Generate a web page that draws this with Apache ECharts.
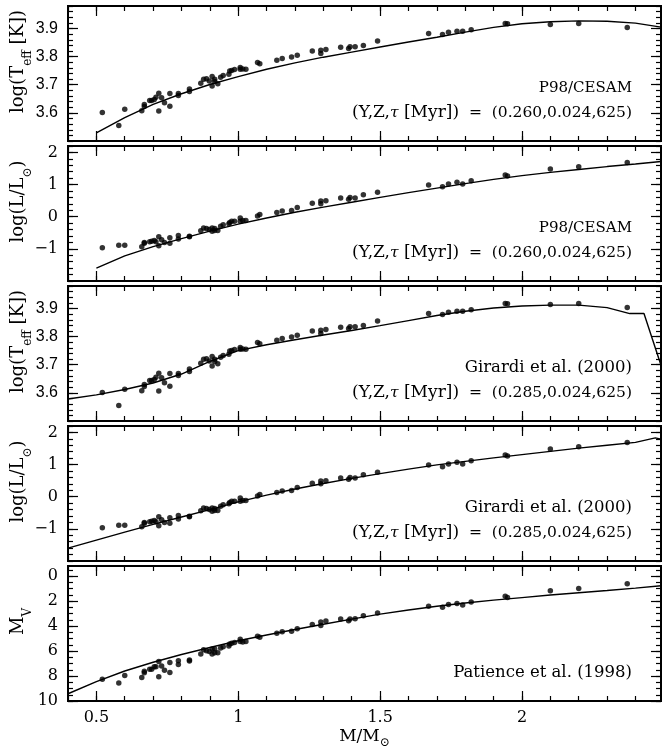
<!DOCTYPE html>
<html><head><meta charset="utf-8">
<script src="https://cdn.jsdelivr.net/npm/echarts@6/dist/echarts.min.js"></script>
<style>html,body{margin:0;padding:0;background:#fff}#c{width:662px;height:749px}</style>
</head><body><div id="c"></div>
<script>
// ---------- observed Hyades stars (shared masses) ----------
const mass = [0.521,0.579,0.600,0.660,0.669,0.669,0.688,0.695,0.704,0.710,0.720,0.720,0.730,0.740,0.759,0.759,0.789,0.789,0.828,0.828,0.868,0.878,0.888,0.898,0.908,0.908,0.917,0.917,0.928,0.938,0.947,0.967,0.970,0.977,0.987,1.007,1.007,1.016,1.027,1.068,1.076,1.136,1.155,1.188,1.208,1.261,1.291,1.291,1.309,1.361,1.389,1.394,1.412,1.441,1.491,1.671,1.720,1.741,1.771,1.791,1.821,1.941,1.949,2.100,2.200,2.371];
const logTeff = [3.601,3.555,3.613,3.608,3.630,3.623,3.644,3.644,3.648,3.656,3.670,3.607,3.654,3.636,3.669,3.624,3.669,3.662,3.685,3.676,3.705,3.720,3.721,3.713,3.729,3.696,3.720,3.712,3.704,3.727,3.733,3.737,3.749,3.751,3.754,3.761,3.755,3.756,3.755,3.779,3.775,3.787,3.793,3.799,3.805,3.820,3.811,3.823,3.825,3.833,3.829,3.835,3.835,3.840,3.856,3.882,3.879,3.887,3.890,3.890,3.896,3.918,3.917,3.914,3.918,3.904];
const logL = [-0.968,-0.885,-0.885,-0.937,-0.823,-0.80,-0.78,-0.76,-0.74,-0.78,-0.627,-0.906,-0.72,-0.80,-0.658,-0.823,-0.585,-0.69,-0.606,-0.62,-0.44,-0.35,-0.37,-0.40,-0.35,-0.45,-0.37,-0.43,-0.43,-0.30,-0.25,-0.22,-0.18,-0.14,-0.14,-0.04,-0.14,-0.12,-0.12,0.025,0.066,0.128,0.18,0.19,0.29,0.418,0.40,0.49,0.50,0.583,0.54,0.60,0.58,0.687,0.759,0.987,0.935,1.017,1.07,1.017,1.12,1.297,1.266,1.483,1.555,1.69];
const absMv = [8.25,8.55,7.96,8.12,7.74,7.61,7.45,7.45,7.26,7.26,6.83,8.06,7.20,7.53,6.91,7.72,6.77,7.07,6.72,6.80,6.24,5.89,5.97,6.03,5.83,6.24,5.83,6.13,6.13,5.75,5.65,5.59,5.43,5.38,5.32,5.05,5.24,5.27,5.24,4.81,4.89,4.57,4.46,4.41,4.22,3.87,3.95,3.68,3.60,3.44,3.58,3.44,3.41,3.17,2.96,2.42,2.50,2.28,2.20,2.31,2.07,1.61,1.72,1.18,0.99,0.62];

// ---------- model isochrones ----------
const p98Mass = [0.5,0.6,0.7,0.8,0.9,1.0,1.1,1.2,1.3,1.4,1.5,1.6,1.7,1.8,1.9,2.0,2.1,2.2,2.3,2.4,2.49];
const p98Teff = [3.529,3.583,3.630,3.668,3.701,3.729,3.755,3.778,3.798,3.816,3.834,3.852,3.869,3.887,3.904,3.917,3.924,3.927,3.926,3.919,3.905];
const p98L = [-1.60,-1.22,-0.93,-0.68,-0.45,-0.23,-0.04,0.14,0.30,0.45,0.60,0.75,0.89,1.03,1.16,1.28,1.38,1.47,1.56,1.64,1.72];
const girTeffMass = [0.4,0.5,0.6,0.7,0.8,0.9,1.0,1.1,1.2,1.3,1.4,1.5,1.6,1.7,1.8,1.9,2.0,2.1,2.2,2.3,2.38,2.43,2.49];
const girTeff = [3.578,3.593,3.612,3.635,3.667,3.712,3.750,3.771,3.789,3.806,3.822,3.839,3.857,3.875,3.890,3.902,3.909,3.912,3.912,3.903,3.882,3.882,3.698];
const girLMass = [0.4,0.5,0.6,0.7,0.8,0.9,1.0,1.1,1.2,1.3,1.4,1.5,1.6,1.7,1.8,1.9,2.0,2.1,2.2,2.3,2.4,2.47,2.49];
const girL = [-1.60,-1.35,-1.10,-0.86,-0.63,-0.40,-0.16,0.05,0.24,0.41,0.57,0.72,0.86,0.99,1.10,1.21,1.31,1.41,1.51,1.60,1.69,1.83,1.79];
const patMass = [0.4,0.5,0.6,0.7,0.8,0.9,1.0,1.1,1.2,1.3,1.4,1.5,1.6,1.7,1.8,1.9,2.0,2.1,2.2,2.3,2.4,2.49];
const patMv = [9.42,8.45,7.60,6.90,6.28,5.72,5.18,4.72,4.28,3.86,3.45,3.05,2.72,2.42,2.16,1.93,1.73,1.52,1.34,1.16,0.97,0.78];

// ---------- ticks & labels ----------
const xMajor = [0.5, 1, 1.5, 2];
const teffMajor = [3.6, 3.7, 3.8, 3.9];
const lumMajor = [-1, 0, 1, 2];
const mvMajor = [0, 2, 4, 6, 8, 10];
const p98Label = 'P98/CESAM';
const girLabel = 'Girardi et al. (2000)';
const patLabel = 'Patience et al. (1998)';
const p98Params = '{w|(Y,Z,}{i|τ}{w| [Myr])}  =  (0.260,0.024,625)';
const girParams = '{w|(Y,Z,}{i|τ}{w| [Myr])}  =  (0.285,0.024,625)';

function steps(a, b, s) {
  const out = [];
  const n = Math.round((b - a) / s);
  for (let k = 0; k <= n; k++) out.push(Math.round((a + k * s) * 1000) / 1000);
  return out;
}
const xMinor = steps(0.4, 2.4, 0.1);
const teffMinor = steps(3.5, 3.98, 0.02);
const lumMinor = steps(-2, 2.2, 0.2);
const mvMinor = steps(-0.5, 10, 0.5);

const FONT = 'DejaVu Serif';
const fmtTeff = v => v.toFixed(1);
const fmtSigned = v => (v < 0 ? '\u2212' + Math.abs(v) : String(v));

const panels = [
  {top: 6, min: 3.5, max: 3.98, inverse: false, major: teffMajor, minor: teffMinor, fmt: fmtTeff, lfont: 'Liberation Sans',
   name: 'log(T{s|eff} [K])', obs: logTeff, cx: p98Mass, cy: p98Teff, texts: [p98Label, p98Params]},
  {top: 146, min: -2, max: 2.2, inverse: false, major: lumMajor, minor: lumMinor, fmt: fmtSigned, lfont: FONT,
   name: 'log(L/L{s|\u2299})', obs: logL, cx: p98Mass, cy: p98L, texts: [p98Label, p98Params]},
  {top: 286, min: 3.5, max: 3.98, inverse: false, major: teffMajor, minor: teffMinor, fmt: fmtTeff, lfont: 'Liberation Sans',
   name: 'log(T{s|eff} [K])', obs: logTeff, cx: girTeffMass, cy: girTeff, texts: [girLabel, girParams]},
  {top: 426, min: -2, max: 2.2, inverse: false, major: lumMajor, minor: lumMinor, fmt: fmtSigned, lfont: FONT,
   name: 'log(L/L{s|\u2299})', obs: logL, cx: girLMass, cy: girL, texts: [girLabel, girParams]},
  {top: 566, min: -0.8, max: 10, inverse: true, major: mvMajor, minor: mvMinor, fmt: v => String(v), lfont: FONT,
   name: 'M{s|V}', obs: absMv, cx: patMass, cy: patMv, texts: [null, patLabel]}
];

const PH = 135, GL = 68, GW = 593;
const grids = [], xAxes = [], yAxes = [], series = [], graphics = [];
const tickLine = {color: '#000', width: 1.2};
const noLine = {show: false, onZero: false};
const nameRich = {s: {fontSize: 12, fontFamily: FONT, verticalAlign: 'bottom', padding: [0, 0, -7, 0]}};
const xNameRich = {s: {fontSize: 12, fontFamily: FONT, verticalAlign: 'bottom', padding: [0, 0, -4, 0]}};

panels.forEach((p, i) => {
  grids.push({left: GL, top: p.top, width: GW, height: PH, show: true, borderColor: '#000', borderWidth: 2,
    backgroundColor: 'transparent', containLabel: false, outerBoundsMode: 'none'});
  const xb = {gridIndex: i, type: 'value', min: 0.4, max: 2.49, axisLine: noLine, splitLine: {show: false}};
  ['bottom', 'top'].forEach(pos => {
    xAxes.push(Object.assign({}, xb, {position: pos, axisTick: {inside: true, length: 5, customValues: xMinor, lineStyle: tickLine}, axisLabel: {show: false}}));
    const isLabel = pos === 'bottom' && i === 4;
    const ax = Object.assign({}, xb, {position: pos, axisTick: {inside: true, length: 10, customValues: xMajor, lineStyle: tickLine},
      axisLabel: isLabel ? {show: true, customValues: xMajor, formatter: v => String(v), color: '#000', fontFamily: FONT, fontSize: 16, margin: 9} : {show: false}});
    if (isLabel) {
      ax.name = 'M/M{s|\u2299}';
      ax.nameLocation = 'middle';
      ax.nameGap = 27;
      ax.nameTextStyle = {color: '#000', fontFamily: FONT, fontSize: 17, rich: xNameRich};
    }
    xAxes.push(ax);
  });
  const yb = {gridIndex: i, type: 'value', min: p.min, max: p.max, inverse: p.inverse, axisLine: noLine, splitLine: {show: false}};
  ['left', 'right'].forEach(pos => {
    const minorAx = Object.assign({}, yb, {position: pos, axisTick: {inside: true, length: 5, customValues: p.minor, lineStyle: tickLine}, axisLabel: {show: false}});
    if (pos === 'left') {
      minorAx.name = p.name;
      minorAx.nameLocation = 'middle';
      minorAx.nameRotate = 90;
      minorAx.nameGap = 41;
      minorAx.nameTextStyle = {color: '#000', fontFamily: FONT, fontSize: 18, padding: [0, 0, 0, 24], rich: nameRich};
    }
    yAxes.push(minorAx);
    yAxes.push(Object.assign({}, yb, {position: pos, axisTick: {inside: true, length: 10, customValues: p.major, lineStyle: tickLine},
      axisLabel: pos === 'left' ? {show: true, customValues: p.major, formatter: p.fmt, color: '#000', fontFamily: p.lfont, fontSize: 16, margin: 10} : {show: false}}));
  });
  series.push({type: 'line', xAxisIndex: i * 4, yAxisIndex: i * 4, data: p.cx.map((m, k) => [m, p.cy[k]]),
    showSymbol: false, smooth: false, lineStyle: {color: '#000', width: 1.4}, silent: true, z: 3});
  series.push({type: 'scatter', xAxisIndex: i * 4, yAxisIndex: i * 4, data: mass.map((m, k) => [m, p.obs[k]]),
    symbol: 'circle', symbolSize: 5.5, itemStyle: {color: '#000'}, silent: true, z: 4});
  p.texts.forEach((t, j) => {
    if (!t) return;
    const isParam = t.indexOf('{w|') >= 0;
    const fs = isParam ? 15.5 : (t === p98Label ? 15 : 16.5);
    graphics.push({type: 'text', x: 632, y: p.top + (j === 0 ? 82 : 107),
      style: {text: t, fontFamily: FONT, fontSize: fs, fill: '#000', align: 'right', verticalAlign: 'middle',
        rich: {i: {fontFamily: FONT, fontSize: fs, fontStyle: 'italic'}, w: {fontFamily: FONT, fontSize: fs + 1.5}}}});
  });
});

const chart = echarts.init(document.getElementById('c'), null, {renderer: 'canvas'});
chart.setOption({
  animation: false,
  backgroundColor: '#fff',
  grid: grids, xAxis: xAxes, yAxis: yAxes, series: series, graphic: graphics
});
</script>
</body></html>
